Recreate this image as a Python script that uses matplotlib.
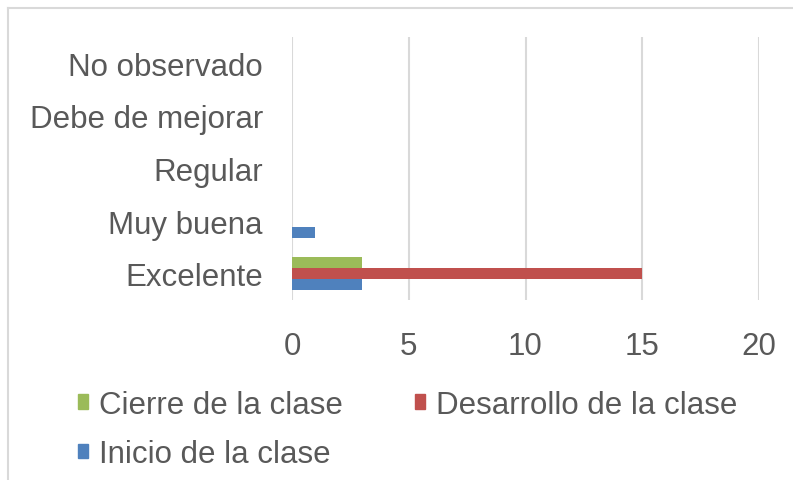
import matplotlib
matplotlib.use("Agg")
import matplotlib.pyplot as plt
import numpy as np
from matplotlib.lines import Line2D
from matplotlib.patches import Patch

categories = ["Excelente", "Muy buena", "Regular", "Debe de mejorar", "No observado"]
inicio = [3, 1, 0, 0, 0]
desarrollo = [15, 0, 0, 0, 0]
cierre = [3, 0, 0, 0, 0]
series_names = ["Inicio de la clase", "Desarrollo de la clase", "Cierre de la clase"]
xticks = [0, 5, 10, 15, 20]

colors = ["#4F81BD", "#C0504D", "#9BBB59"]
text_color = "#595959"
grid_color = "#D9D9D9"
fs = 22.5

plt.rcParams['font.family'] = ['Liberation Sans', 'DejaVu Sans']

fig = plt.figure(figsize=(7.93, 4.81), dpi=100)
ax = fig.add_axes([292/793, 1-301/481, (759-292)/793, (301-38)/481])

y = np.arange(len(categories))
h = 0.21
for i, (vals, c) in enumerate(zip([inicio, desarrollo, cierre], colors)):
    ax.barh(y + (i - 1) * h, vals, height=h, color=c, label=series_names[i], zorder=3)

ax.set_ylim(-0.5, len(categories) - 0.5)
ax.set_xlim(0, 20)
ax.set_xticks(xticks)
ax.set_xticklabels([str(t) for t in xticks])
ax.set_yticks(y)
ax.set_yticklabels(categories)
ax.tick_params(axis='both', length=0, labelsize=fs, colors=text_color)
ax.tick_params(axis='x', pad=22)
ax.tick_params(axis='y', pad=21)
for s in ax.spines.values():
    s.set_visible(False)
ax.grid(axis='x', color=grid_color, linewidth=1.5, zorder=0)
ax.set_axisbelow(True)

handles = [Patch(color=colors[2]), Patch(color=colors[0]), Patch(color=colors[1])]
labels = [series_names[2], series_names[0], series_names[1]]
leg = fig.legend(handles, labels, ncol=2, loc='upper left', bbox_to_anchor=(62/793, 1-375/481),
                 frameon=False, fontsize=fs, handlelength=0.33, handleheight=0.33,
                 handletextpad=0.35, columnspacing=2.3, labelspacing=0.62, borderpad=0)
for t in leg.get_texts():
    t.set_color(text_color)

# figure border (outer chart frame)
fig.add_artist(Line2D([8/793, 8/793], [0, 1-9/481], transform=fig.transFigure, color=grid_color, linewidth=1.5))
fig.add_artist(Line2D([8/793, 1], [1-9/481, 1-9/481], transform=fig.transFigure, color=grid_color, linewidth=1.5))

fig.savefig("out.png", dpi=100)
